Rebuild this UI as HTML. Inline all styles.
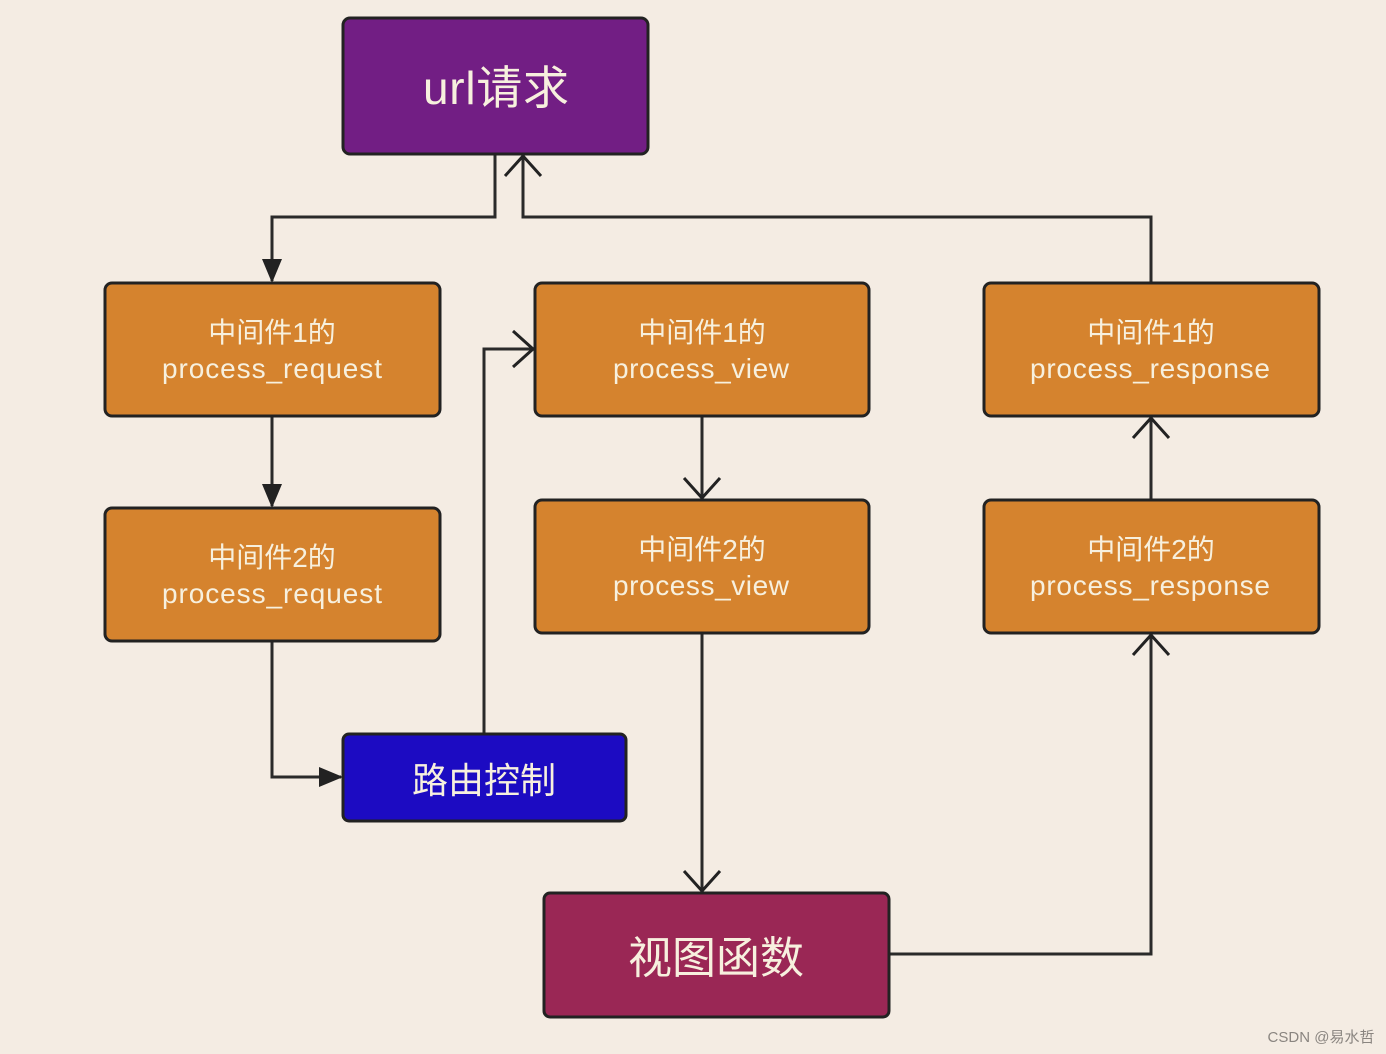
<!DOCTYPE html>
<html><head><meta charset="utf-8"><style>
html,body{margin:0;padding:0;background:#f4ece3;}
svg{display:block}
text{font-family:"Liberation Sans","Noto Sans CJK SC",sans-serif;fill:#f7f0de;text-anchor:middle}
</style></head><body>
<svg width="1386" height="1054" viewBox="0 0 1386 1054" xmlns="http://www.w3.org/2000/svg">
<rect width="1386" height="1054" fill="#f4ece3"/>
<defs>
<marker id="f" markerWidth="24" markerHeight="22" refX="22" refY="11" orient="auto" markerUnits="userSpaceOnUse">
<path d="M0,1 L24,11 L0,21 Z" fill="#222"/></marker>
<marker id="o" markerWidth="24" markerHeight="40" refX="22" refY="20" orient="auto" markerUnits="userSpaceOnUse">
<path d="M2,2 L22,20 L2,38" fill="none" stroke="#222" stroke-width="3"/></marker>
</defs>
<g fill="none" stroke="#2a2a2a" stroke-width="3">
<path d="M495,154 V217 H272 V281" marker-end="url(#f)"/>
<path d="M1151,283 V217 H523 V156" marker-end="url(#o)"/>
<path d="M272,416 V506" marker-end="url(#f)"/>
<path d="M272,641 V777 H341" marker-end="url(#f)"/>
<path d="M484,734 V349 H533" marker-end="url(#o)"/>
<path d="M702,416 V498" marker-end="url(#o)"/>
<path d="M702,633 V891" marker-end="url(#o)"/>
<path d="M889,954 H1151 V635" marker-end="url(#o)"/>
<path d="M1151,500 V418" marker-end="url(#o)"/>
</g>
<g stroke="#222" stroke-width="3">
<rect x="343" y="18" width="305" height="136" rx="7" fill="#721e84"/>
<rect x="105" y="283" width="335" height="133" rx="7" fill="#d5832e"/>
<rect x="105" y="508" width="335" height="133" rx="7" fill="#d5832e"/>
<rect x="535" y="283" width="334" height="133" rx="7" fill="#d5832e"/>
<rect x="535" y="500" width="334" height="133" rx="7" fill="#d5832e"/>
<rect x="984" y="283" width="335" height="133" rx="7" fill="#d5832e"/>
<rect x="984" y="500" width="335" height="133" rx="7" fill="#d5832e"/>
<rect x="343" y="734" width="283" height="87" rx="6" fill="#1c0bc2"/>
<rect x="544" y="893" width="345" height="124" rx="6" fill="#9a2755"/>
</g>
<text x="496" y="104" font-size="46" textLength="146">url请求</text>
<g font-size="28">
<text x="272" y="342">中间件1的</text><text x="272" y="378" textLength="220">process_request</text>
<text x="272" y="567">中间件2的</text><text x="272" y="603" textLength="220">process_request</text>
<text x="702" y="342">中间件1的</text><text x="701" y="378" textLength="176">process_view</text>
<text x="702" y="559">中间件2的</text><text x="701" y="595" textLength="176">process_view</text>
<text x="1151" y="342">中间件1的</text><text x="1150" y="378" textLength="240">process_response</text>
<text x="1151" y="559">中间件2的</text><text x="1150" y="595" textLength="240">process_response</text>
</g>
<text x="484" y="793" font-size="36">路由控制</text>
<text x="716" y="973" font-size="44">视图函数</text>
<text x="1321" y="1042" font-size="15" style="fill:#8a8580">CSDN @易水哲</text>
</svg>
</body></html>
